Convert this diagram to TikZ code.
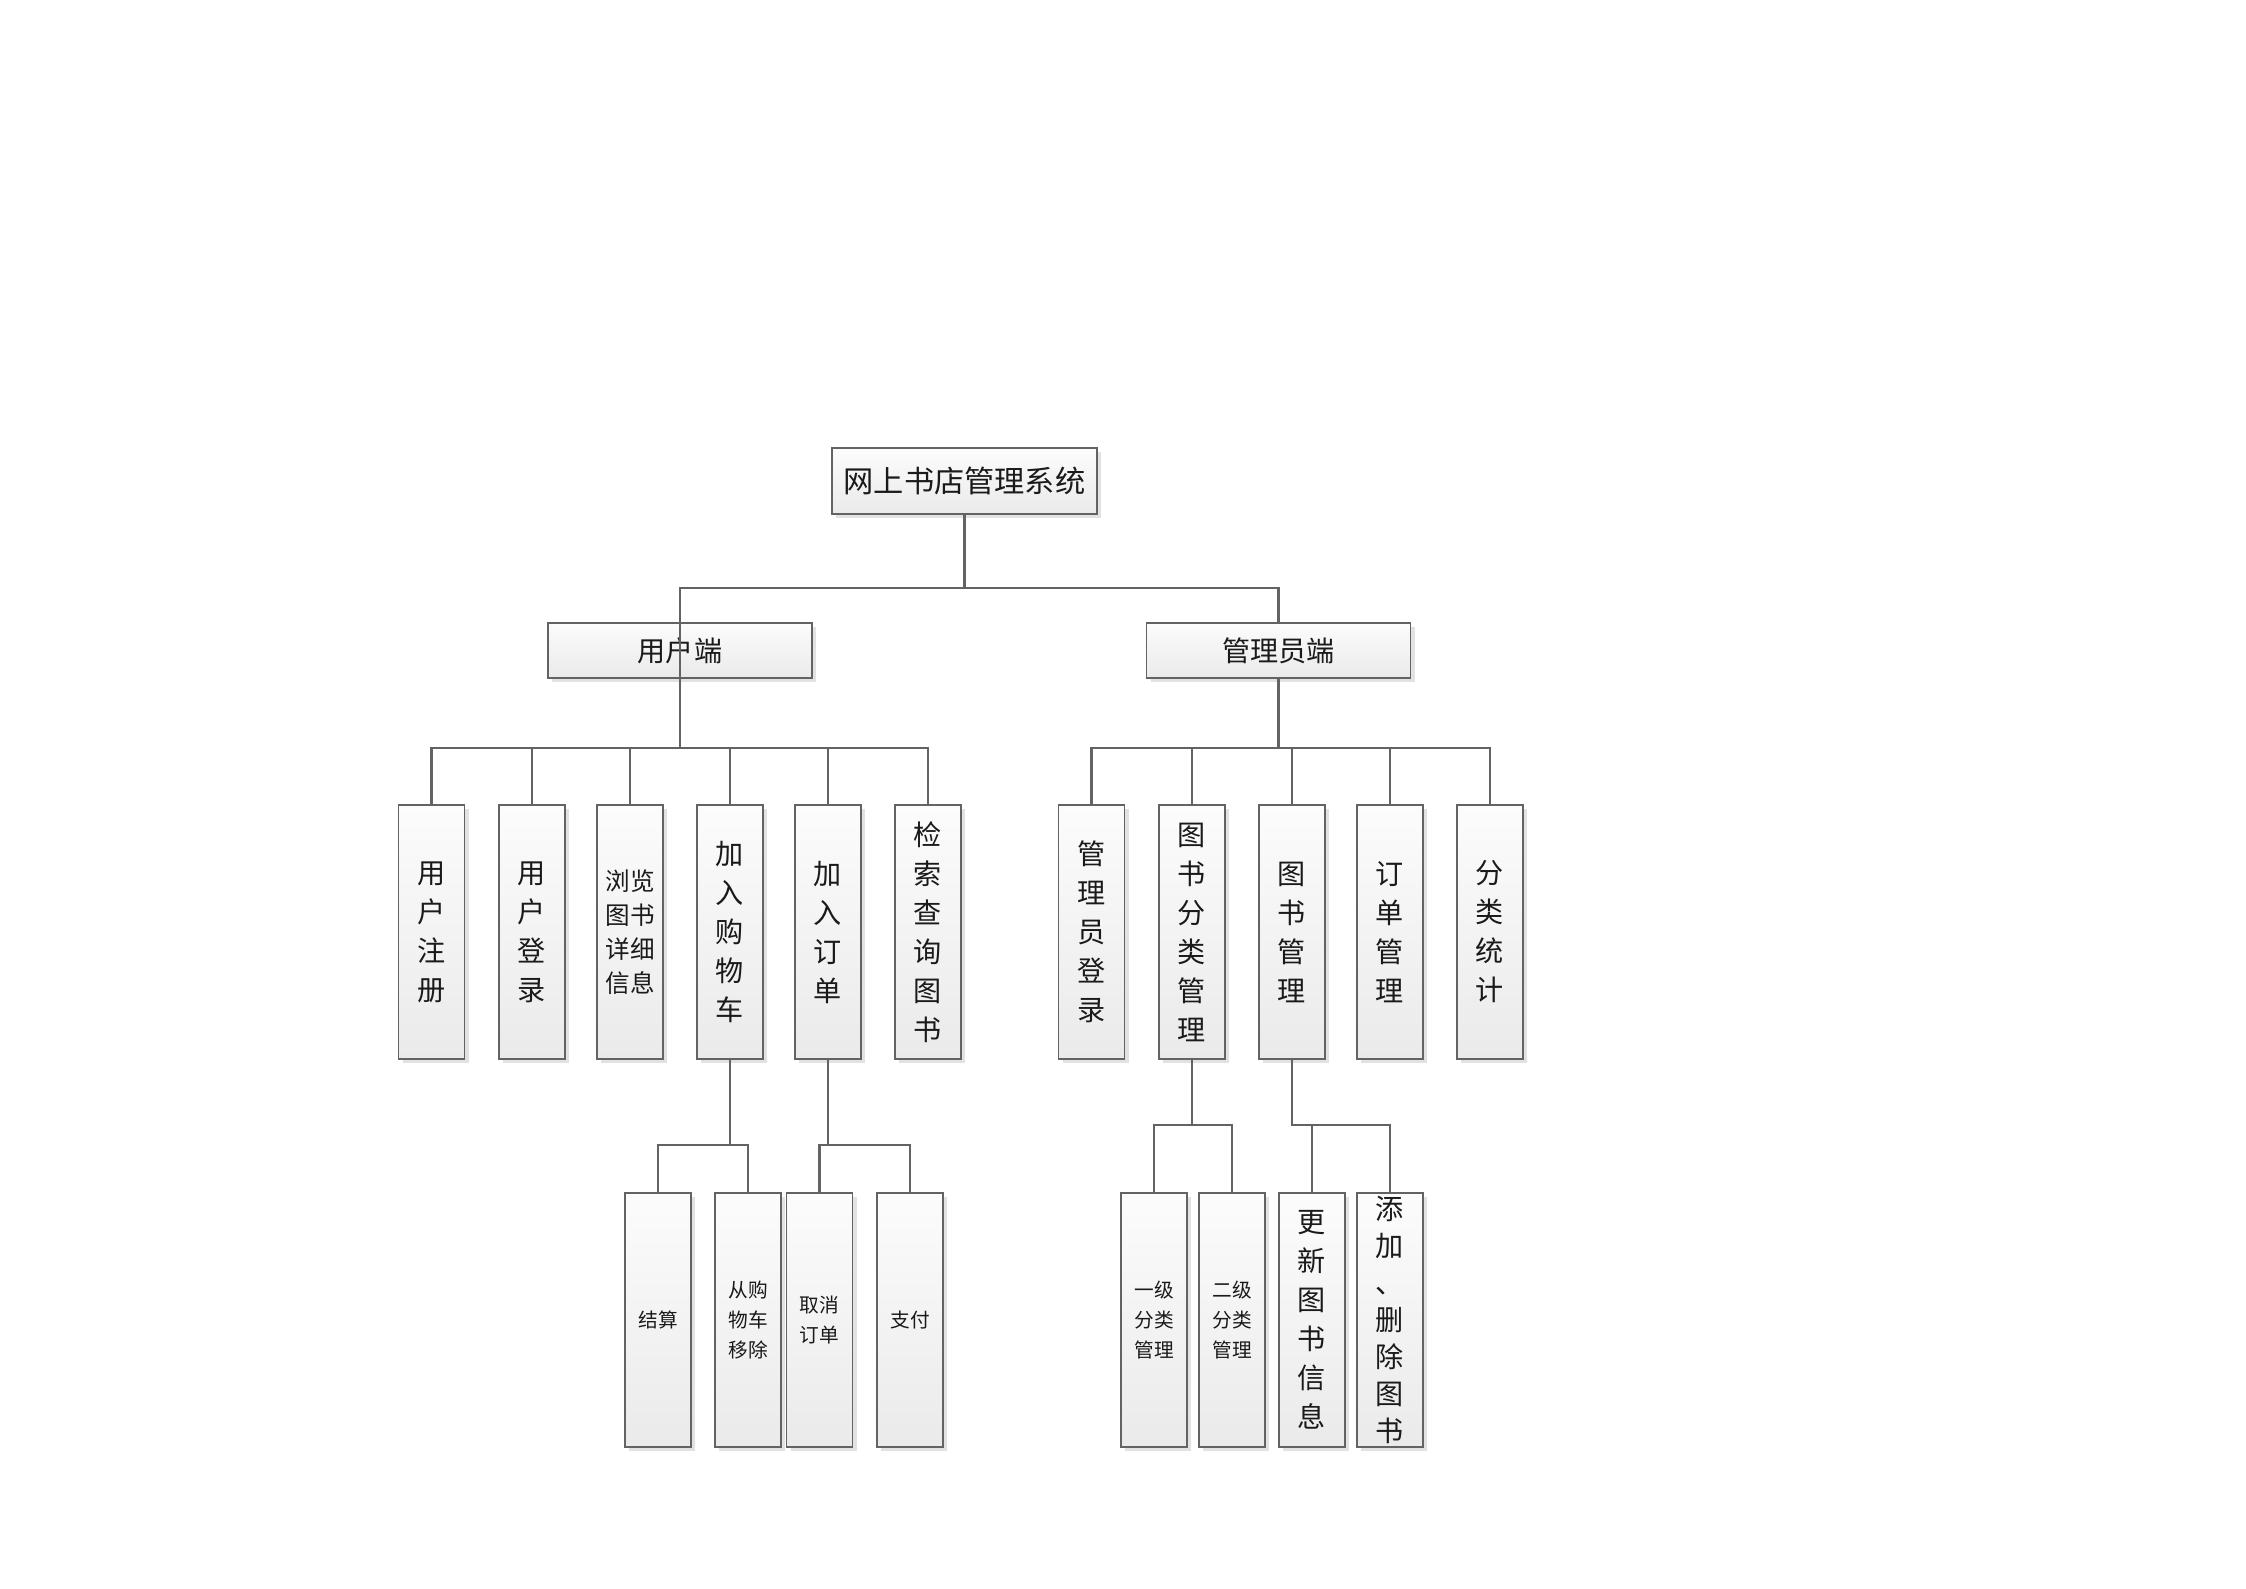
\documentclass[tikz,border=0pt]{standalone}
\usepackage{fontspec}
\setmainfont{Noto Sans CJK SC}
\usepackage{xcolor}
\usepackage{tikz}
\usetikzlibrary{shadows}
\definecolor{boxline}{HTML}{636363}
\definecolor{boxtop}{HTML}{FCFCFC}
\definecolor{boxbottom}{HTML}{EAEAEA}
\definecolor{shadowgray}{HTML}{E2E2E2}
\definecolor{textdark}{HTML}{1A1A1A}
\tikzstyle{rootbox} = [rectangle, minimum width=26.5mm, minimum height=6.6mm, inner xsep=1pt,
  draw=boxline, top color=boxtop, bottom color=boxbottom, line width=0.55pt,
  drop shadow={shadow xshift=0.4mm, shadow yshift=-0.4mm, fill=shadowgray, opacity=1},
  font=\fontsize{8.6}{10}\selectfont, text=textdark]
\tikzstyle{sidebox} = [rootbox, minimum width=26.4mm, minimum height=5.5mm,
  font=\fontsize{8}{10}\selectfont]
\tikzstyle{funcbox} = [rootbox, minimum width=6.6mm, minimum height=25.4mm, inner sep=0pt,
  align=center, font=\fontsize{8}{11.1}\selectfont]
\tikzstyle{subbox} = [funcbox, font=\fontsize{5.6}{8.5}\selectfont]
\tikzstyle{link} = [draw=boxline, line width=0.6pt]

\begin{document}
\begin{tikzpicture}[x=0.1mm, y=-0.1mm]
  \useasboundingbox (0,0) rectangle (2246,1588);

  % top of the tree
  \node (sys)   [rootbox] at (964.5,481) {网上书店管理系统};
  \node (user)  [sidebox] at (680,650.5) {用户端};
  \node (admin) [sidebox] at (1278.5,650.5) {管理员端};

  % user side
  \node (reg)    [funcbox] at (431.5,932) {用\\户\\注\\册};
  \node (login)  [funcbox] at (532,932) {用\\户\\登\\录};
  \node (browse) [funcbox, font=\fontsize{7}{9.7}\selectfont] at (630,932)
    {浏览\\图书\\详细\\信息};
  \node (cart)   [funcbox] at (730,932) {加\\入\\购\\物\\车};
  \node (order)  [funcbox] at (828,932) {加\\入\\订\\单};
  \node (search) [funcbox] at (928,932) {检\\索\\查\\询\\图\\书};

  % admin side
  \node (alogin) [funcbox] at (1091.5,932) {管\\理\\员\\登\\录};
  \node (cat)    [funcbox] at (1192,932) {图\\书\\分\\类\\管\\理};
  \node (book)   [funcbox] at (1292,932) {图\\书\\管\\理};
  \node (orders) [funcbox] at (1390,932) {订\\单\\管\\理};
  \node (stat)   [funcbox] at (1490,932) {分\\类\\统\\计};

  % third level
  \node (pay)    [subbox] at (658,1320) {结算};
  \node (remove) [subbox] at (748,1320) {从购\\物车\\移除};
  \node (cancel) [subbox] at (819.5,1320) {取消\\订单};
  \node (paid)   [subbox] at (910,1320) {支付};
  \node (cat1)   [subbox] at (1154,1320) {一级\\分类\\管理};
  \node (cat2)   [subbox] at (1232,1320) {二级\\分类\\管理};
  \node (upd)    [funcbox] at (1312,1320) {更\\新\\图\\书\\信\\息};
  \node (adddel) [funcbox, font=\fontsize{8}{10.5}\selectfont] at (1390,1320)
    {添\\加\\、\\删\\除\\图\\书};

  % connectors
  \draw[link] (sys.south) -- ++(0,73) -| (user.south);
  \draw[link] (sys.south) -- ++(0,73) -| (admin.north);
  \foreach \c in {reg,login,browse,cart,order,search}
    \draw[link] (user.south) -- ++(0,69) -| (\c.north);
  \foreach \c in {alogin,cat,book,orders,stat}
    \draw[link] (admin.south) -- ++(0,69) -| (\c.north);
  \draw[link] (cart.south) -- ++(0,85) -| (pay.north);
  \draw[link] (cart.south) -- ++(0,85) -| (remove.north);
  \draw[link] (order.south) -- ++(0,85) -| (cancel.north);
  \draw[link] (order.south) -- ++(0,85) -| (paid.north);
  \draw[link] (cat.south) -- ++(0,65) -| (cat1.north);
  \draw[link] (cat.south) -- ++(0,65) -| (cat2.north);
  \draw[link] (book.south) -- ++(0,65) -| (upd.north);
  \draw[link] (book.south) -- ++(0,65) -| (adddel.north);
\end{tikzpicture}
\end{document}
